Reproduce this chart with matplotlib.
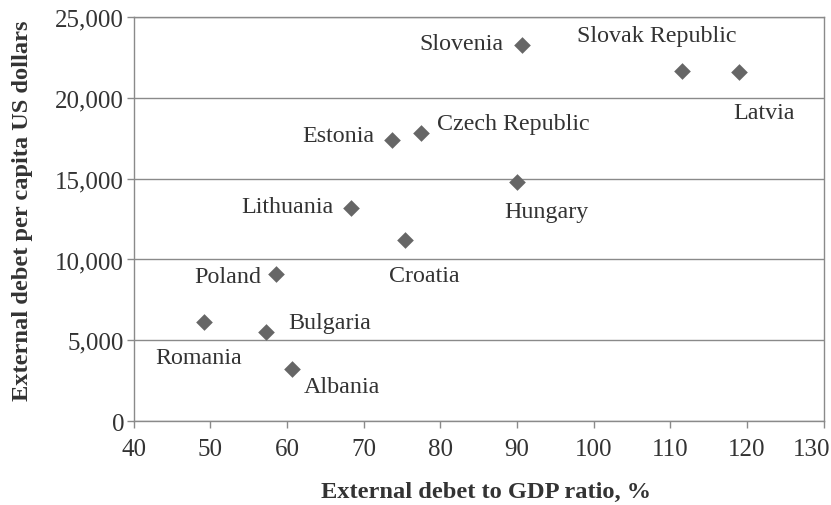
import matplotlib
matplotlib.use("Agg")
import matplotlib.pyplot as plt
from matplotlib.ticker import FuncFormatter
import matplotlib.transforms as mtransforms

countries = ["Romania", "Bulgaria", "Albania", "Poland", "Lithuania", "Croatia",
             "Estonia", "Czech Republic", "Slovenia", "Hungary", "Slovak Republic", "Latvia"]
debt_gdp = [49.1, 57.2, 60.6, 58.5, 68.3, 75.4, 73.7, 77.5, 90.6, 90.0, 111.5, 119.0]
debt_pc = [6100, 5500, 3200, 9100, 13200, 11200, 17400, 17850, 23300, 14800, 21700, 21600]

x_ticks = [40, 50, 60, 70, 80, 90, 100, 110, 120, 130]
y_ticks = [0, 5000, 10000, 15000, 20000, 25000]

# label placement (offset pixels, horizontal alignment)
label_style = {
    "Romania": (-5, -35, "center"),
    "Bulgaria": (23, 10, "left"),
    "Albania": (12, -17, "left"),
    "Poland": (-14, -2, "right"),
    "Lithuania": (-17, 1, "right"),
    "Croatia": (19, -35, "center"),
    "Estonia": (-18, 4, "right"),
    "Czech Republic": (16, 9, "left"),
    "Slovenia": (-18, 1, "right"),
    "Hungary": (29, -30, "center"),
    "Slovak Republic": (-25, 35, "center"),
    "Latvia": (25, -40, "center"),
}

plt.rcParams["font.family"] = ["Liberation Serif", "DejaVu Serif"]

fig = plt.figure(figsize=(8.31, 5.06), dpi=100)
ax = fig.add_axes([0.161, 0.166, 0.830, 0.798])

txt = "#333333"
grid = "#8a8a8a"

ax.scatter(debt_gdp, debt_pc, marker="D", s=72, color="#666666", zorder=3, linewidths=0)

for name, x, y in zip(countries, debt_gdp, debt_pc):
    dx, dy, ha = label_style[name]
    ax.annotate(name, (x, y), xytext=(dx, dy), textcoords="offset pixels",
                ha=ha, va="center", fontsize=17.3, color=txt)

ax.set_xlim(40, 130)
ax.set_ylim(0, 25000)
ax.set_xticks(x_ticks)
ax.set_yticks(y_ticks)
ax.yaxis.set_major_formatter(FuncFormatter(lambda v, p: f"{int(v):,}"))
ax.yaxis.grid(True, color=grid, linewidth=1.0)
ax.set_axisbelow(True)

for s in ["left", "right", "bottom", "top"]:
    ax.spines[s].set_color(grid)
    ax.spines[s].set_linewidth(1.0)

ax.tick_params(axis="both", labelsize=18, colors=txt, length=5, color=grid, width=1)
ax.tick_params(axis="x", pad=7)
ax.tick_params(axis="y", pad=2)

# keep last x tick label inside the figure
fig.canvas.draw()
last = ax.get_xticklabels()[-1]
last.set_horizontalalignment("right")
last.set_transform(last.get_transform() + mtransforms.ScaledTranslation(7/100, 0, fig.dpi_scale_trans))

ax.set_xlabel("External debet to GDP ratio, %", fontsize=17.6, fontweight="bold", color=txt)
ax.set_ylabel("External debet per capita US dollars", fontsize=17.6, fontweight="bold", color=txt)
ax.xaxis.set_label_coords(0.51, -0.148)
ax.yaxis.set_label_coords(-0.146, 0.522)

fig.savefig("out.png", dpi=100, facecolor="white")
